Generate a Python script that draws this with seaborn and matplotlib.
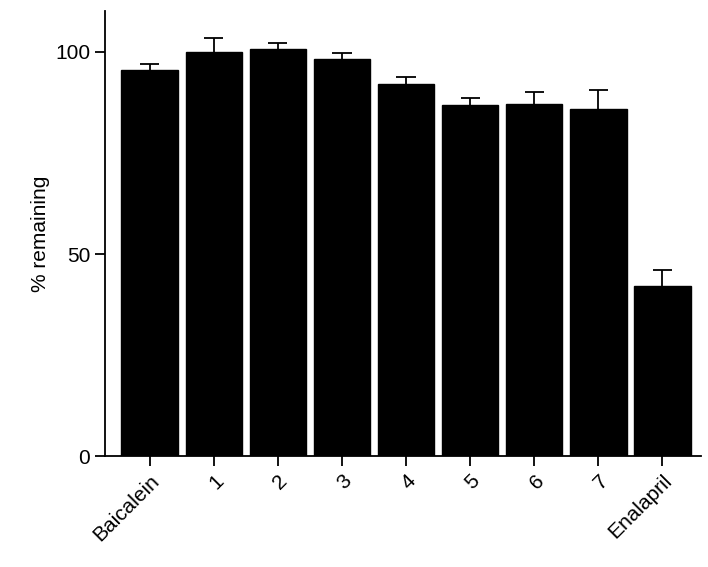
import matplotlib
matplotlib.use("Agg")
import matplotlib.pyplot as plt
import seaborn as sns
import numpy as np
import pandas as pd

labels = ["Baicalein", "1", "2", "3", "4", "5", "6", "7", "Enalapril"]
means = [95.5, 100.0, 100.6, 98.3, 92.1, 86.9, 87.1, 85.9, 42.1]
errs = [1.5, 3.5, 1.6, 1.5, 1.7, 1.7, 3.0, 4.7, 3.9]

sns.set_style("ticks", {"text.color": "black", "axes.labelcolor": "black",
                        "xtick.color": "black", "ytick.color": "black",
                        "axes.edgecolor": "black"})
plt.rcParams['font.family'] = ['Liberation Sans', 'DejaVu Sans']

df = pd.DataFrame({"compound": labels, "remaining": means})
fig, ax = plt.subplots(figsize=(7.08, 5.67), dpi=100)
sns.barplot(data=df, x="compound", y="remaining", color="black",
            width=0.88, saturation=1, edgecolor="black", ax=ax)
x = np.arange(len(labels))
tops = np.array(means) + np.array(errs)
ax.vlines(x, means, tops, color="black", lw=1.3)
ax.hlines(tops, x - 0.15, x + 0.15, color="black", lw=1.3)

ax.set_ylim(0, 110)
ax.set_xlim(-0.7, len(labels) - 0.4)
ax.set_yticks([0, 50, 100])
ax.set_ylabel("% remaining", fontsize=15)
ax.set_xlabel("")
ax.tick_params(axis="both", labelsize=15, width=1.3, length=7, direction="out")
plt.setp(ax.get_xticklabels(), rotation=45, ha="right", rotation_mode="anchor")
for s in ["left", "bottom"]:
    ax.spines[s].set_linewidth(1.3)
sns.despine(ax=ax)
fig.subplots_adjust(left=0.148, right=0.99, top=0.98, bottom=0.195)
fig.savefig("out.png", dpi=100)
